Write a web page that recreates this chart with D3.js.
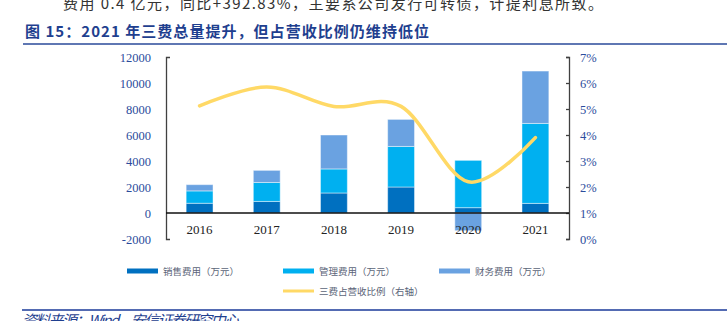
<!DOCTYPE html>
<html>
<head>
<meta charset="utf-8">
<script src="https://cdn.jsdelivr.net/npm/d3@7"></script>
<style>
  body { margin: 0; background: #fff; }
  svg { display: block; }
</style>
</head>
<body>
<div id="container"></div>
<script>
// Yearly expense data (万元) and expense / revenue ratio
var years = ["2016", "2017", "2018", "2019", "2020", "2021"];
var sales = [750, 890, 1540, 2000, 410, 740];
var admin = [950, 1460, 1850, 3120, 3640, 6150];
var finance = [480, 930, 2610, 2080, -1360, 4030];
var ratio = [5.12, 5.85, 5.1, 5.1, 2.2, 3.9];

var leftTicks = [-2000, 0, 2000, 4000, 6000, 8000, 10000, 12000];
var rightTicks = [0, 1, 2, 3, 4, 5, 6, 7];

var seriesNames = ["销售费用（万元）", "管理费用（万元）", "财务费用（万元）"];
var lineName = "三费占营收比例（右轴）";
var colors = ["#0070C0", "#00B0F0", "#6AA2E1"];
var lineColor = "#FFD966";

var width = 727,
    height = 321;

var svg = d3.select("#container")
            .append("svg")
              .attr("width", width)
              .attr("height", height);

// Header text above the chart
svg.append("text")
    .attr("x", 63)
    .attr("y", 9)
    .attr("textLength", 540)
    .attr("lengthAdjust", "spacing")
    .style("font-family", "'Noto Sans CJK SC', sans-serif")
    .style("font-size", "15px")
    .style("fill", "#333")
    .text("费用 0.4 亿元，同比+392.83%，主要系公司发行可转债，计提利息所致。");

svg.append("text")
    .attr("x", 25)
    .attr("y", 37)
    .attr("textLength", 404)
    .attr("lengthAdjust", "spacing")
    .style("font-family", "'Noto Sans CJK SC', sans-serif")
    .style("font-size", "15px")
    .style("font-weight", "bold")
    .style("fill", "#1F3F8F")
    .text("图 15：2021 年三费总量提升，但占营收比例仍维持低位");

svg.append("line")
    .attr("x1", 23).attr("x2", width)
    .attr("y1", 44).attr("y2", 44)
    .attr("stroke", "#2A4A9A")
    .attr("stroke-width", 1.5);

// Scales
var x = d3.scaleBand()
          .domain(years)
          .range([166, 569])
          .paddingInner(0.6)
          .paddingOuter(0.3);

var y = d3.scaleLinear()
          .domain([-2000, 12000])
          .range([239, 57]);

var y2 = d3.scaleLinear()
           .domain([0, 7])
           .range([239, 57]);

// Stacked bars, negative values go below zero
var rows = years.map(function(d, i) {
  return { year: d, sales: sales[i], admin: admin[i], finance: finance[i] };
});
var stack = d3.stack()
              .keys(["sales", "admin", "finance"])
              .offset(d3.stackOffsetDiverging);
var layers = stack(rows);

svg.append("g")
  .selectAll("g")
  .data(layers)
  .enter()
  .append("g")
    .attr("fill", function(d, i) { return colors[i]; })
  .selectAll("rect")
  .data(function(d) { return d; })
  .enter()
  .append("rect")
    .attr("x", function(d) { return x(d.data.year); })
    .attr("width", x.bandwidth())
    .attr("y", function(d) { return y(Math.max(d[0], d[1])); })
    .attr("height", function(d) { return Math.abs(y(d[0]) - y(d[1])); })
    .attr("stroke", "rgba(255,255,255,0.45)")
    .attr("stroke-width", 1);

// Left axis: no inner ticks, end caps pointing right
var axisLeft = d3.axisLeft(y)
                 .tickValues(leftTicks)
                 .tickSizeInner(0)
                 .tickSizeOuter(-4)
                 .tickPadding(15)
                 .tickFormat(function(d) { return String(d); });

var gl = svg.append("g")
            .attr("transform", "translate(166,0)")
            .call(axisLeft);

// Right axis: short ticks pointing inward
var axisRight = d3.axisRight(y2)
                  .tickValues(rightTicks)
                  .tickSizeInner(-3)
                  .tickSizeOuter(-3)
                  .tickPadding(11)
                  .tickFormat(function(d) { return d + "%"; });

var gr = svg.append("g")
            .attr("transform", "translate(569,0)")
            .call(axisRight);

[gl, gr].forEach(function(g) {
  g.select(".domain").attr("stroke", "#404040").attr("stroke-width", 1.3);
  g.selectAll(".tick line").attr("stroke", "#404040").attr("stroke-width", 1.3);
  g.selectAll(".tick text")
    .style("font-family", "'Liberation Serif', serif")
    .style("font-size", "12.5px")
    .attr("fill", "#2B4C9C");
});

// Zero line
svg.append("line")
    .attr("x1", 166).attr("x2", 569)
    .attr("y1", y(0)).attr("y2", y(0))
    .attr("stroke", "#111")
    .attr("stroke-width", 1.3);

// Category labels
svg.append("g")
  .selectAll("text")
  .data(years)
  .enter()
  .append("text")
    .attr("x", function(d) { return x(d) + x.bandwidth() / 2; })
    .attr("y", 234)
    .attr("text-anchor", "middle")
    .style("font-family", "'Liberation Serif', serif")
    .style("font-size", "13px")
    .style("fill", "#222")
    .text(function(d) { return d; });

// Ratio line on the right axis
var line = d3.line()
             .x(function(d, i) { return x(years[i]) + x.bandwidth() / 2; })
             .y(function(d) { return y2(d); })
             .curve(d3.curveCatmullRom.alpha(0));

svg.append("path")
    .datum(ratio)
    .attr("d", line)
    .attr("fill", "none")
    .attr("stroke", lineColor)
    .attr("stroke-width", 3.5)
    .attr("stroke-linecap", "round");

// Legend
var legendItems = [
  { name: seriesNames[0], color: colors[0], x: 127, y: 271, w: 5 },
  { name: seriesNames[1], color: colors[1], x: 283, y: 271, w: 5 },
  { name: seriesNames[2], color: colors[2], x: 439, y: 271, w: 5 },
  { name: lineName, color: lineColor, x: 283, y: 291, w: 3 }
];

var legend = svg.append("g")
                .selectAll("g")
                .data(legendItems)
                .enter()
                .append("g")
                  .attr("transform", function(d) { return "translate(" + d.x + "," + d.y + ")"; });

legend.append("line")
    .attr("x1", 0).attr("x2", 31)
    .attr("stroke", function(d) { return d.color; })
    .attr("stroke-width", function(d) { return d.w; });

legend.append("text")
    .attr("x", 36)
    .attr("y", 3.5)
    .style("font-family", "'Noto Sans CJK SC', sans-serif")
    .style("font-size", "9.5px")
    .style("fill", "#5B6478")
    .text(function(d) { return d.name; });

// Source footer
svg.append("line")
    .attr("x1", 22).attr("x2", width)
    .attr("y1", 310).attr("y2", 310)
    .attr("stroke", "#1A3A9A")
    .attr("stroke-width", 1.5);

svg.append("text")
    .attr("x", 22)
    .attr("y", 326)
    .attr("textLength", 217)
    .attr("lengthAdjust", "spacing")
    .style("font-family", "'Noto Sans CJK SC', sans-serif")
    .style("font-size", "15px")
    .style("font-style", "italic")
    .style("fill", "#1F3F8F")
    .text("资料来源：Wind，安信证券研究中心");
</script>
</body>
</html>
